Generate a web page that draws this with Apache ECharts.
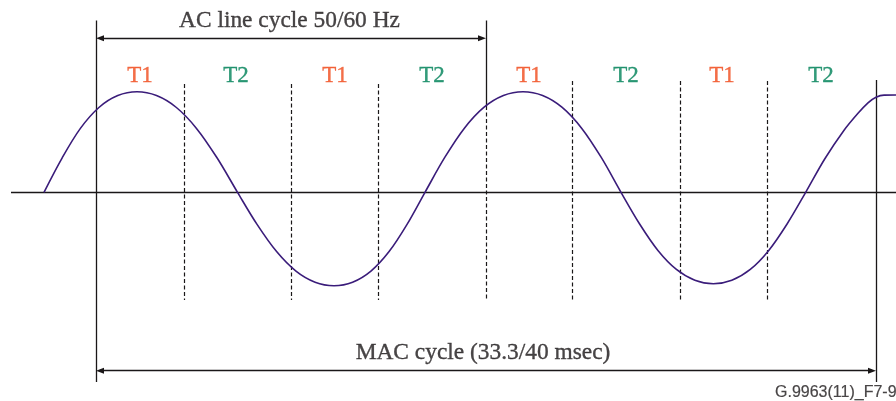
<!DOCTYPE html>
<html>
<head>
<meta charset="utf-8">
<script src="https://cdn.jsdelivr.net/npm/echarts@6/dist/echarts.min.js"></script>
<style>
html,body{margin:0;padding:0;background:#fff;}
#chart{width:896px;height:401px;}
</style>
</head>
<body>
<div id="chart"></div>
<script>
// ---- data (x across the figure, y = signal amplitude above the zero line) ----
const waveX = [44, 62.2, 80.4, 98.9, 117.8, 137, 156.5, 176.4, 196.5, 217,
               237.5, 257.05, 276.6, 295.95, 315.1, 334, 352.6, 370.95, 389.1, 407.05,
               425, 444.6, 464.2, 483.8, 503.4, 523, 542.6, 562.2, 581.8, 601.4,
               621, 639.47, 657.94, 676.41, 694.88, 713.35, 731.82, 750.29, 768.76, 787.23,
               805.7, 824.7, 843.7, 858, 868, 876, 884, 896];
const waveY = [0, 34.5, 63.9, 84.8, 96.7, 100.5, 96.7, 84.8, 63.9, 34.5,
               0, -32.1, -59.3, -78.8, -89.9, -93.4, -89.9, -78.8, -59.3, -32.1,
               0, 34.6, 63.9, 84.9, 96.8, 100.6, 96.8, 84.9, 63.9, 34.6,
               0, -31.4, -58.1, -77.1, -87.9, -91.4, -87.9, -77.1, -58.1, -31.4,
               0, 33.3, 61.6, 79, 89.5, 95, 97.2, 97.3];
const slotLabels = ['T1', 'T2', 'T1', 'T2', 'T1', 'T2', 'T1', 'T2'];
const slotCenters = [140, 236, 335, 432, 529, 626, 722, 821];
const slotBoundaries = [184, 291, 378, 486, 572, 680, 767];
const acCycle = [96, 486];
const macCycle = [96, 876];
const acText = 'AC line cycle 50/60 Hz';
const macText = 'MAC cycle (33.3/40 msec)';
const figId = 'G.9963(11)_F7-9';

// ---- layout / style ----
const ZERO = 192.3;           // pixel row of the zero line
const H = 401;
const yv = py => ZERO - py;   // pixel row -> amplitude value
const RED = '#f04a1a', GREEN = '#008259', INK = '#1a1718', WAVE = '#3a1c7a';
const SERIF = "'Liberation Serif','Times New Roman',serif";
const AH = 8; // arrow head length

const solid = {color: INK, width: 1.3, type: 'solid'};
const dashed = {color: INK, width: 1.2, type: [4, 2.5]};

function seg(x1, y1, x2, y2, style) {
  return [{coord: [x1, y1], lineStyle: style}, {coord: [x2, y2]}];
}

const plainLines = [
  seg(11, 0, 896, 0, solid),
  seg(acCycle[0], yv(20.5), acCycle[0], yv(382), solid),
  seg(acCycle[1], yv(20.5), acCycle[1], yv(106), solid),
  seg(macCycle[1], yv(80), macCycle[1], yv(382), solid)
];
slotBoundaries.forEach((x, i) => {
  plainLines.push(seg(x, yv(i < 3 ? 84 : (x === acCycle[1] ? 106 : 81)), x, yv(300), dashed));
});

const arrowLines = [
  seg(acCycle[0] + AH / 2, yv(38.3), acCycle[1] - AH / 2, yv(38.3), solid),
  seg(macCycle[0] + AH / 2, yv(370.7), macCycle[1] - AH / 2, yv(370.7), solid)
];

function txt(color, extra) {
  return Object.assign({color: color, textBorderColor: color, textBorderWidth: 0.35}, extra || {});
}
const textData = slotCenters.map((x, i) => ({
  value: [x, yv(75.5)],
  name: slotLabels[i],
  label: txt(i % 2 ? GREEN : RED, {fontSize: 23})
}));
textData.push({value: [(acCycle[0] + acCycle[1]) / 2 - 1.5, yv(21)], name: acText, label: txt(INK)});
textData.push({value: [(macCycle[0] + macCycle[1]) / 2 - 3, yv(352.5)], name: macText, label: txt(INK)});
textData.push({value: [775, yv(392.5)], name: figId,
  label: txt(INK, {align: 'left', fontFamily: "'Liberation Sans',Arial,sans-serif", fontSize: 16, textBorderWidth: 0.2})});

const chart = echarts.init(document.getElementById('chart'), null, {renderer: 'canvas'});
chart.setOption({
  animation: false,
  backgroundColor: '#fff',
  grid: {left: 0, right: 0, top: 0, bottom: 0},
  xAxis: {type: 'value', min: 0, max: 896, show: false},
  yAxis: {type: 'value', min: ZERO - H, max: ZERO, show: false},
  series: [
    {
      type: 'line', data: [], silent: true,
      markLine: {silent: true, symbol: 'none', label: {show: false}, data: plainLines, animation: false}
    },
    {
      type: 'line', data: [], silent: true,
      markLine: {silent: true, symbol: ['triangle', 'triangle'], symbolSize: [6, AH],
        label: {show: false}, data: arrowLines, animation: false,
        itemStyle: {color: INK}}
    },
    {
      type: 'line', silent: true, smooth: 0.33, showSymbol: false, z: 5,
      data: waveX.map((x, i) => [x, waveY[i]]),
      lineStyle: {color: WAVE, width: 1.6}
    },
    {
      type: 'scatter', silent: true, symbolSize: 0, z: 6,
      data: textData,
      label: {show: true, position: 'inside', formatter: p => p.name,
        fontFamily: SERIF, fontSize: 23.4, align: 'center', verticalAlign: 'middle'}
    }
  ]
});
</script>
</body>
</html>
